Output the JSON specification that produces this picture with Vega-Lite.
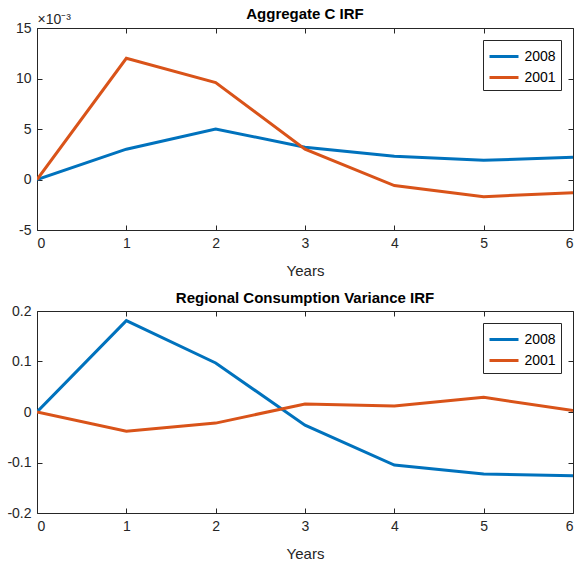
{
  "$schema": "https://vega.github.io/schema/vega-lite/v6.json",
  "padding": {"left": 6, "top": 6, "right": 0, "bottom": 0},
  "autosize": {"type": "pad"},
  "spacing": 11,
  "config": {
    "font": "Liberation Sans",
    "view": {"stroke": "#262626", "strokeWidth": 1},
    "axis": {
      "grid": false,
      "domain": false,
      "tickColor": "#262626",
      "tickSize": -5,
      "labelColor": "#262626",
      "labelFont": "Liberation Sans",
      "labelFontSize": 14,
      "titleColor": "#262626",
      "titleFont": "Liberation Sans",
      "titleFontSize": 15,
      "titleFontWeight": "normal",
      "labelPadding": 11
    },
    "title": {"font": "Liberation Sans", "fontSize": 15, "fontWeight": "bold", "color": "#000000", "offset": -2},
    "legend": {
      "orient": "top-right",
      "offset": 12,
      "title": null,
      "fillColor": "white",
      "strokeColor": "#262626",
      "padding": 5,
      "symbolType": "M-1.45,0H1.45",
      "symbolSize": 400,
      "symbolOffset": 4.5,
      "symbolStrokeWidth": 3,
      "labelFont": "Liberation Sans",
      "labelFontSize": 14,
      "labelColor": "#000000",
      "rowPadding": 2,
      "labelOffset": 9
    }
  },
  "data": {
    "values": [
      {"panel": "agg", "year": 0, "series": "2008", "value": 0.0},
      {"panel": "agg", "year": 1, "series": "2008", "value": 0.0030},
      {"panel": "agg", "year": 2, "series": "2008", "value": 0.0050},
      {"panel": "agg", "year": 3, "series": "2008", "value": 0.0032},
      {"panel": "agg", "year": 4, "series": "2008", "value": 0.0023},
      {"panel": "agg", "year": 5, "series": "2008", "value": 0.0019},
      {"panel": "agg", "year": 6, "series": "2008", "value": 0.0022},
      {"panel": "agg", "year": 0, "series": "2001", "value": 0.0},
      {"panel": "agg", "year": 1, "series": "2001", "value": 0.0120},
      {"panel": "agg", "year": 2, "series": "2001", "value": 0.0096},
      {"panel": "agg", "year": 3, "series": "2001", "value": 0.0030},
      {"panel": "agg", "year": 4, "series": "2001", "value": -0.0006},
      {"panel": "agg", "year": 5, "series": "2001", "value": -0.0017},
      {"panel": "agg", "year": 6, "series": "2001", "value": -0.0013},
      {"panel": "reg", "year": 0, "series": "2008", "value": 0.0},
      {"panel": "reg", "year": 1, "series": "2008", "value": 0.181},
      {"panel": "reg", "year": 2, "series": "2008", "value": 0.097},
      {"panel": "reg", "year": 3, "series": "2008", "value": -0.026},
      {"panel": "reg", "year": 4, "series": "2008", "value": -0.105},
      {"panel": "reg", "year": 5, "series": "2008", "value": -0.123},
      {"panel": "reg", "year": 6, "series": "2008", "value": -0.126},
      {"panel": "reg", "year": 0, "series": "2001", "value": 0.0},
      {"panel": "reg", "year": 1, "series": "2001", "value": -0.038},
      {"panel": "reg", "year": 2, "series": "2001", "value": -0.022},
      {"panel": "reg", "year": 3, "series": "2001", "value": 0.016},
      {"panel": "reg", "year": 4, "series": "2001", "value": 0.012},
      {"panel": "reg", "year": 5, "series": "2001", "value": 0.029},
      {"panel": "reg", "year": 6, "series": "2001", "value": 0.003}
    ]
  },
  "resolve": {"scale": {"color": "independent"}, "legend": {"color": "independent"}},
  "vconcat": [
    {
      "title": {"text": "Aggregate C IRF", "offset": -10},
      "width": 536,
      "height": 202,
      "transform": [{"filter": "datum.panel === 'agg'"}],
      "resolve": {"axis": {"x": "independent", "y": "independent"}},
      "layer": [
        {
          "mark": {"type": "line", "strokeWidth": 3, "clip": true},
          "encoding": {
            "x": {"field": "year", "type": "quantitative", "scale": {"domain": [0, 6], "nice": false, "zero": false},
                  "axis": {"title": "Years", "values": [0, 1, 2, 3, 4, 5, 6], "format": "d", "titlePadding": 13}},
            "y": {"field": "value", "type": "quantitative", "scale": {"domain": [-0.005, 0.015], "nice": false},
                  "axis": {"values": [-0.005, 0, 0.005, 0.01, 0.015], "labelExpr": "toString(round(datum.value * 1000))",
                           "title": "×10⁻³", "titleAngle": 0, "titleX": 0, "titleY": -5, "titleAlign": "left", "titleBaseline": "alphabetic", "titleFontSize": 14}},
            "color": {"field": "series", "type": "nominal", "scale": {"domain": ["2008", "2001"], "range": ["#0072BD", "#D95319"]}}
          }
        },
        {
          "mark": {"type": "line", "opacity": 0},
          "encoding": {
            "x": {"field": "year", "type": "quantitative", "axis": {"orient": "top", "values": [0, 1, 2, 3, 4, 5, 6], "labels": false, "title": null}},
            "y": {"field": "value", "type": "quantitative", "axis": {"orient": "right", "values": [-0.005, 0, 0.005, 0.01, 0.015], "labels": false, "title": null}}
          }
        }
      ]
    },
    {
      "title": "Regional Consumption Variance IRF",
      "width": 536,
      "height": 202,
      "transform": [{"filter": "datum.panel === 'reg'"}],
      "resolve": {"axis": {"x": "independent", "y": "independent"}},
      "layer": [
        {
          "mark": {"type": "line", "strokeWidth": 3, "clip": true},
          "encoding": {
            "x": {"field": "year", "type": "quantitative", "scale": {"domain": [0, 6], "nice": false, "zero": false},
                  "axis": {"title": "Years", "values": [0, 1, 2, 3, 4, 5, 6], "format": "d", "titlePadding": 13}},
            "y": {"field": "value", "type": "quantitative", "scale": {"domain": [-0.2, 0.2], "nice": false},
                  "axis": {"values": [-0.2, -0.1, 0, 0.1, 0.2], "labelExpr": "toString(datum.value)", "title": null}},
            "color": {"field": "series", "type": "nominal", "scale": {"domain": ["2008", "2001"], "range": ["#0072BD", "#D95319"]}}
          }
        },
        {
          "mark": {"type": "line", "opacity": 0},
          "encoding": {
            "x": {"field": "year", "type": "quantitative", "axis": {"orient": "top", "values": [0, 1, 2, 3, 4, 5, 6], "labels": false, "title": null}},
            "y": {"field": "value", "type": "quantitative", "axis": {"orient": "right", "values": [-0.2, -0.1, 0, 0.1, 0.2], "labels": false, "title": null}}
          }
        }
      ]
    }
  ]
}
